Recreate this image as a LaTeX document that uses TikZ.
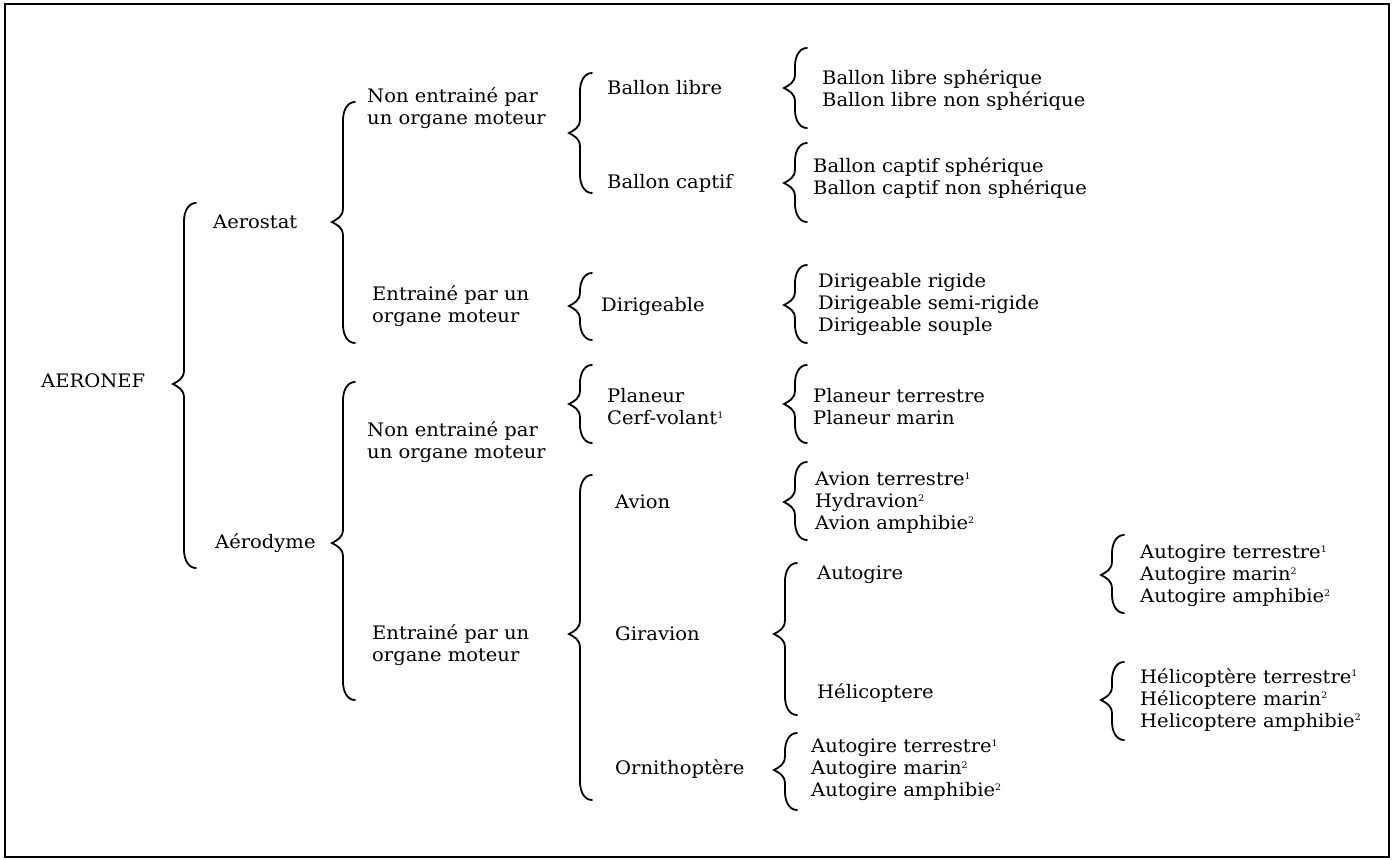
\documentclass[tikz,border=0pt]{standalone}
\usepackage{fontspec}
\setmainfont{DejaVu Serif}[FakeStretch=1.05]
\newcommand\ex[1]{\textsuperscript{\fontsize{9}{9}\selectfont #1}}
\newcommand\brc[4]{%
  \draw[bracestyle] (#1+12,#2) .. controls +(-8,0) and +(0,-9) .. (#1,#2+18)
    -- (#1,#3-14) .. controls +(0,9) and +(5,-3) .. (#1-11,#3)
    .. controls +(5,3) and +(0,-9) .. (#1,#3+14)
    -- (#1,#4-18) .. controls +(0,9) and +(-8,0) .. (#1+12,#4);}
\tikzset{
  bracestyle/.style={line width=1.8pt, line cap=round, black},
  lbl/.style={anchor=west, inner sep=0pt, align=left,
    font=\fontsize{18.6}{22}\selectfont},
}
\begin{document}
\begin{tikzpicture}[x=1pt,y=-1pt]
\useasboundingbox (0,0) rectangle (1394,859);
\draw[line width=1.3pt] (5,4) rectangle (1389,857);

% level 0
\node[lbl] (aeronef) at (41,381) {AERONEF};
\brc{184}{203}{384}{568}
% level 1
\node[lbl] (aerostat) at (213,222) {Aerostat};
\node[lbl] (aerodyme) at (215,543) {Aérodyme};
\brc{343}{102}{222}{343}
\brc{343}{382}{543}{700}
% level 2
\node[lbl] (ne1) at (367,108.5) {Non entrainé par\\un organe moteur};
\node[lbl] (e1) at (372,306.5) {Entrainé par un\\organe moteur};
\node[lbl] (ne2) at (367,442.5) {Non entrainé par\\un organe moteur};
\node[lbl] (e2) at (372,645.5) {Entrainé par un\\organe moteur};
\brc{580}{73}{133}{193}
\brc{580}{273}{306}{340}
\brc{580}{365}{404}{443}
\brc{580}{475}{634}{800}
% level 3
\node[lbl] (blibre) at (607,88) {Ballon libre};
\node[lbl] (bcaptif) at (607,183) {Ballon captif};
\node[lbl] (dirig) at (601,306) {Dirigeable};
\node[lbl] (planeur) at (607,406.5) {Planeur\\Cerf-volant\ex{1}};
\node[lbl] (avion) at (615,502) {Avion};
\node[lbl] (giravion) at (615,634) {Giravion};
\node[lbl] (ornith) at (615,769) {Ornithoptère};
\brc{795}{48}{88}{128}
\brc{795}{143}{183}{222}
\brc{795}{265}{305}{343}
\brc{795}{365}{404}{443}
\brc{795}{462}{502}{540}
\brc{785}{563}{634}{715}
\brc{785}{733}{770}{810}
% level 4
\node[lbl] (blibreS) at (822,89.5) {Ballon libre sphérique\\Ballon libre non sphérique};
\node[lbl] (bcaptifS) at (813,177.5) {Ballon captif sphérique\\Ballon captif non sphérique};
\begin{scope}
\clip (810,260) rectangle (1150,334);
\node[lbl] (dirigS) at (818,304.5) {Dirigeable rigide\\Dirigeable semi-rigide\\Dirigeable souple};
\end{scope}
\node[lbl] (planeurS) at (813,406.5) {Planeur terrestre\\Planeur marin};
\node[lbl] (avionS) at (815,503) {Avion terrestre\ex{1}\\Hydravion\ex{2}\\Avion amphibie\ex{2}};
\node[lbl] (autogire) at (817,575) {Autogire};
\node[lbl] (helico) at (817,693) {Hélicoptere};
\node[lbl] (ornithS) at (811,770) {Autogire terrestre\ex{1}\\Autogire marin\ex{2}\\Autogire amphibie\ex{2}};
\brc{1112}{535}{575}{613}
\brc{1112}{662}{700}{740}
% level 5
\node[lbl] (autogireS) at (1140,576) {Autogire terrestre\ex{1}\\Autogire marin\ex{2}\\Autogire amphibie\ex{2}};
\node[lbl] (helicoS) at (1140,699.5) {Hélicoptère terrestre\ex{1}\\Hélicoptere marin\ex{2}\\Helicoptere amphibie\ex{2}};
\end{tikzpicture}
\end{document}
